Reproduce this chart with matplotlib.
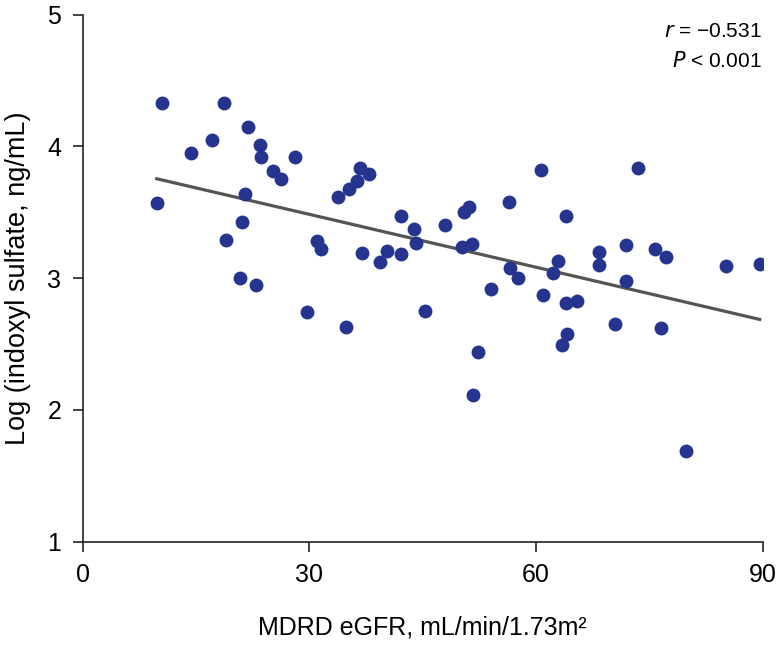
import numpy as np
import matplotlib
matplotlib.use("Agg")
import matplotlib.pyplot as plt

plt.rcParams["font.family"] = ["Liberation Sans", "DejaVu Sans"]

# data (eGFR, log indoxyl sulfate)
egfr = [10.5, 18.7, 21.9, 17.1, 23.4, 14.3, 23.6, 28.1, 25.2, 26.2,
        21.5, 9.8, 21.1, 18.9, 31.0, 31.6, 20.8, 23.0, 29.7, 36.7,
        37.9, 36.3, 35.2, 33.8, 60.7, 56.4, 42.1, 51.1, 50.4, 48.0,
        43.9, 36.9, 40.3, 42.1, 39.4, 44.1, 50.2, 51.5, 56.6, 57.6,
        54.1, 60.9, 62.2, 34.9, 45.3, 52.3, 51.6, 73.5, 63.9, 68.3,
        71.9, 75.7, 77.2, 85.2, 89.6, 62.9, 68.3, 71.9, 63.9, 65.4,
        70.4, 76.5, 64.1, 63.4, 79.8]
log_is = [4.33, 4.33, 4.15, 4.05, 4.01, 3.95, 3.92, 3.92, 3.81, 3.75,
          3.64, 3.57, 3.43, 3.29, 3.28, 3.22, 3.00, 2.95, 2.74, 3.84,
          3.79, 3.74, 3.68, 3.62, 3.82, 3.58, 3.47, 3.54, 3.50, 3.40,
          3.37, 3.19, 3.21, 3.18, 3.12, 3.27, 3.24, 3.26, 3.08, 3.00,
          2.92, 2.87, 3.04, 2.63, 2.75, 2.44, 2.11, 3.84, 3.47, 3.20,
          3.25, 3.22, 3.16, 3.09, 3.11, 3.13, 3.10, 2.98, 2.81, 2.83,
          2.65, 2.62, 2.58, 2.49, 1.69]

# regression line as printed in the figure
fit_slope = -0.01338
fit_intercept = 3.886

x = np.array(egfr)
y = np.array(log_is)

fig = plt.figure(figsize=(7.81, 6.5), dpi=100)
ax = fig.add_axes([0.1059, 0.1666, 0.8707, 0.8108])

ax.scatter(x, y, s=100, color="#25358F", linewidths=0, zorder=3)

xs = np.array([x.min(), x.max()])
ax.plot(xs, fit_slope * xs + fit_intercept, color="#555555", lw=2.3, zorder=2)

ax.set_xlim(0, 90)
ax.set_ylim(1, 5)
ax.set_xticks([0, 30, 60, 90])
ax.set_yticks([1, 2, 3, 4, 5])
for s in ["top", "right"]:
    ax.spines[s].set_visible(False)
for s in ["left", "bottom"]:
    ax.spines[s].set_linewidth(1.2)
    ax.spines[s].set_color("#222222")
ax.tick_params(direction="out", length=7.5, width=1.2, color="#222222",
               labelsize=18, pad=8)

ax.set_xlabel("MDRD eGFR, mL/min/1.73m²", fontsize=18, labelpad=20)
ax.set_ylabel("Log (indoxyl sulfate, ng/mL)", fontsize=19.5, labelpad=12)

ax.text(0.999, 0.9577, "$r$ = −0.531", transform=ax.transAxes,
        ha="right", va="baseline", fontsize=15)
ax.text(0.999, 0.9008, "$P$ < 0.001", transform=ax.transAxes,
        ha="right", va="baseline", fontsize=15)

fig.savefig("out.png", dpi=100)
